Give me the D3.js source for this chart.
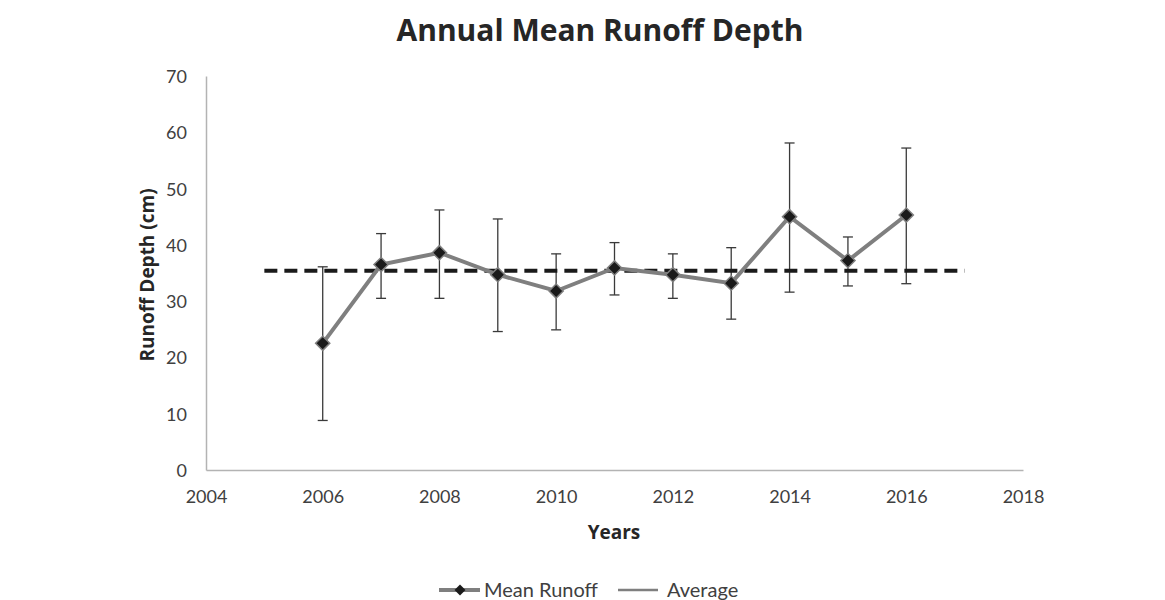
<!DOCTYPE html>
<html>
<head>
<meta charset="utf-8">
<script src="https://cdn.jsdelivr.net/npm/d3@7"></script>
<style>
  body { margin: 0; background: #fff; }
  text { font-family: Lato, "Open Sans", sans-serif; }
</style>
</head>
<body>
<div id="chart"></div>
<script>
// Chart data
var years = [2006, 2007, 2008, 2009, 2010, 2011, 2012, 2013, 2014, 2015, 2016];
var meanRunoff = [22.5, 36.5, 38.6, 34.7, 31.8, 35.9, 34.7, 33.2, 45.0, 37.2, 45.3];
var errUpper = [36.1, 42.0, 46.2, 44.6, 38.4, 40.4, 38.4, 39.5, 58.1, 41.4, 57.2];
var errLower = [8.8, 30.5, 30.5, 24.6, 24.9, 31.1, 30.5, 26.8, 31.6, 32.7, 33.1];
var averageYears = [2005, 2017];
var averageValue = 35.4;
var xTicks = [2004, 2006, 2008, 2010, 2012, 2014, 2016, 2018];
var yTicks = [0, 10, 20, 30, 40, 50, 60, 70];

var svgWidth = 1165;
var svgHeight = 600;

var chartMargin = { top: 76, right: 142, bottom: 130, left: 206 };
var chartWidth = svgWidth - chartMargin.left - chartMargin.right;
var chartHeight = svgHeight - chartMargin.top - chartMargin.bottom;

var svg = d3.select("#chart")
  .append("svg")
  .attr("width", svgWidth)
  .attr("height", svgHeight);

var chartGroup = svg.append("g")
  .attr("transform", `translate(${chartMargin.left}, ${chartMargin.top})`);

var xScale = d3.scaleLinear()
  .domain([2004, 2018])
  .range([0, chartWidth]);

var yScale = d3.scaleLinear()
  .domain([0, 70])
  .range([chartHeight, 0]);

// axes
var bottomAxis = d3.axisBottom(xScale).tickValues(xTicks).tickFormat(d3.format("d")).tickSize(0).tickPadding(20);
var leftAxis = d3.axisLeft(yScale).tickValues(yTicks).tickSize(0).tickPadding(19);

var xAxisG = chartGroup.append("g")
  .attr("transform", `translate(0, ${chartHeight})`)
  .call(bottomAxis);

var yAxisG = chartGroup.append("g")
  .call(leftAxis);

[xAxisG, yAxisG].forEach(function(g) {
  g.select(".domain").attr("stroke", "#b3b3b3").attr("stroke-width", 1.5);
  g.selectAll("text")
    .attr("font-size", 18)
    .attr("fill", "#404040")
    .style("font-family", "Lato, 'Open Sans', sans-serif");
});
yAxisG.selectAll("text").attr("dy", "0.36em");

// error bars
var rows = years.map(function(y, i) {
  return { year: y, mean: meanRunoff[i], hi: errUpper[i], lo: errLower[i] };
});

var errGroup = chartGroup.append("g");
errGroup.selectAll("line.err")
  .data(rows)
  .enter()
  .append("line")
  .attr("class", "err")
  .attr("x1", d => xScale(d.year))
  .attr("x2", d => xScale(d.year))
  .attr("y1", d => yScale(d.hi))
  .attr("y2", d => yScale(d.lo))
  .attr("stroke", "#3a3a3a")
  .attr("stroke-width", 1.3);

["hi", "lo"].forEach(function(k) {
  errGroup.selectAll("line.cap-" + k)
    .data(rows)
    .enter()
    .append("line")
    .attr("class", "cap-" + k)
    .attr("x1", d => xScale(d.year) - 5)
    .attr("x2", d => xScale(d.year) + 5)
    .attr("y1", d => yScale(d[k]))
    .attr("y2", d => yScale(d[k]))
    .attr("stroke", "#3a3a3a")
    .attr("stroke-width", 1.3);
});

// average dashed line
chartGroup.append("line")
  .attr("x1", xScale(averageYears[0]))
  .attr("x2", xScale(averageYears[1]))
  .attr("y1", yScale(averageValue))
  .attr("y2", yScale(averageValue))
  .attr("stroke", "#1a1a1a")
  .attr("stroke-width", 4)
  .attr("stroke-dasharray", "13,7");

// mean runoff line
var line = d3.line()
  .x(d => xScale(d.year))
  .y(d => yScale(d.mean));

chartGroup.append("path")
  .datum(rows)
  .attr("d", line)
  .attr("fill", "none")
  .attr("stroke", "#7f7f7f")
  .attr("stroke-width", 4);

// square turned 45 degrees = excel diamond
var diamond = d3.symbol().type(d3.symbolSquare).size(100);

chartGroup.selectAll("path.marker")
  .data(rows)
  .enter()
  .append("path")
  .attr("class", "marker")
  .attr("d", diamond)
  .attr("transform", d => `translate(${xScale(d.year)}, ${yScale(d.mean)}) rotate(45)`)
  .attr("fill", "#1a1a1a")
  .attr("stroke", "#7f7f7f")
  .attr("stroke-width", 1.5);

// title and axis labels
svg.append("text")
  .attr("x", 600)
  .attr("y", 41)
  .attr("text-anchor", "middle")
  .attr("font-size", 30)
  .attr("font-weight", "bold")
  .attr("fill", "#262626")
  .style("font-family", "'Open Sans', sans-serif")
  .text("Annual Mean Runoff Depth");

svg.append("text")
  .attr("transform", "rotate(-90)")
  .attr("x", -275)
  .attr("y", 154)
  .attr("text-anchor", "middle")
  .attr("font-size", 19)
  .attr("font-weight", "bold")
  .attr("fill", "#262626")
  .style("font-family", "'Open Sans', sans-serif")
  .text("Runoff Depth (cm)");

svg.append("text")
  .attr("x", 614)
  .attr("y", 539)
  .attr("text-anchor", "middle")
  .attr("font-size", 19)
  .attr("font-weight", "bold")
  .attr("fill", "#262626")
  .style("font-family", "'Open Sans', sans-serif")
  .text("Years");

// legend
var legend = svg.append("g").attr("transform", "translate(0, 590)");
legend.append("line")
  .attr("x1", 439).attr("x2", 480).attr("y1", 0).attr("y2", 0)
  .attr("stroke", "#7f7f7f").attr("stroke-width", 4);
legend.append("path")
  .attr("d", d3.symbol().type(d3.symbolSquare).size(60))
  .attr("transform", "translate(460, 0) rotate(45)")
  .attr("fill", "#1a1a1a");
legend.append("text")
  .attr("x", 484).attr("y", 7)
  .attr("font-size", 20).attr("fill", "#404040")
  .text("Mean Runoff");
legend.append("line")
  .attr("x1", 618).attr("x2", 658).attr("y1", 0).attr("y2", 0)
  .attr("stroke", "#7f7f7f").attr("stroke-width", 2.5);
legend.append("text")
  .attr("x", 667).attr("y", 7)
  .attr("font-size", 20).attr("fill", "#404040")
  .text("Average");
</script>
</body>
</html>
